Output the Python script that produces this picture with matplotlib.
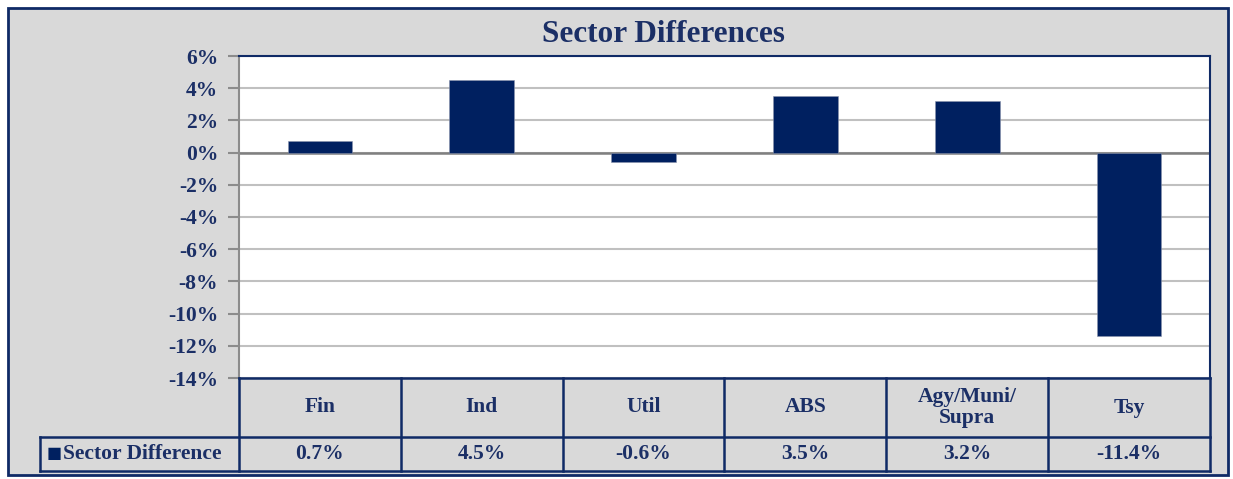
import matplotlib
matplotlib.use('Agg')
from matplotlib import pyplot as plt
from matplotlib.patches import Rectangle

categories = ['Fin', 'Ind', 'Util', 'ABS', 'Agy/Muni/\nSupra', 'Tsy']
values = [0.7, 4.5, -0.6, 3.5, 3.2, -11.4]
series_name = 'Sector Difference'
yticks = [6, 4, 2, 0, -2, -4, -6, -8, -10, -12, -14]

navy = '#002060'
text_col = '#1b2f66'
line_col = '#0f2a66'
bg = '#d9d9d9'

plt.rcParams['font.family'] = ['Liberation Serif', 'DejaVu Serif']
plt.rcParams['font.weight'] = 'bold'

W, H = 1233, 479
fig = plt.figure(figsize=(W / 100, H / 100), dpi=100)
fig.patch.set_facecolor('white')

# outer chart frame
fig.patches.append(Rectangle((8 / W, 1 - 475 / H), 1220 / W, 467 / H,
                             transform=fig.transFigure, facecolor=bg,
                             edgecolor=line_col, lw=2, zorder=-5))

left, right, top, bottom = 239, 1210, 56, 378
ax = fig.add_axes([left / W, 1 - bottom / H, (right - left) / W, (bottom - top) / H])
ax.set_zorder(2)
ax.set_facecolor('white')

x = list(range(len(categories)))
ax.bar(x, values, width=0.4, color=navy, zorder=3, edgecolor='#8a94ad', lw=0.4)
ax.set_xlim(-0.5, len(categories) - 0.5)
ax.set_ylim(min(yticks), max(yticks))
ax.set_yticks(yticks)
ax.set_yticklabels([f'{t}%' for t in yticks])
ax.set_xticks([])
ax.grid(axis='y', color='#c0c0c0', lw=1.5, zorder=1)
ax.axhline(0, color='#808080', lw=1.8, zorder=2)
ax.tick_params(axis='y', length=8, width=1.5, color='#8c8c8c', pad=7,
               labelsize=15.5, labelcolor=text_col)
for lab in ax.get_yticklabels():
    lab.set_fontweight('bold')
ax.spines['left'].set_color('#8c8c8c')
ax.spines['left'].set_linewidth(1.5)
for s in ('top', 'right'):
    ax.spines[s].set_color(line_col)
    ax.spines[s].set_linewidth(1.5)
ax.spines['bottom'].set_visible(False)

fig.text(663 / W, 1 - 35 / H, 'Sector Differences', ha='center', va='center',
         fontsize=22.5, fontweight='bold', color=text_col)

# data table below the axes
tr = ax.get_xaxis_transform()
ph = bottom - top
row1 = -(437 - bottom) / ph
row2 = -(471 - bottom) / ph
legend_left = -0.5 - (left - 40) / ((right - left) / len(categories))
kw = dict(transform=tr, clip_on=False, color=line_col, lw=1.8, zorder=5)
ax.plot([-0.5, len(categories) - 0.5], [0, 0], **kw)
ax.plot([legend_left, len(categories) - 0.5], [row1, row1], **kw)
ax.plot([legend_left, len(categories) - 0.5], [row2, row2], **kw)
ax.plot([legend_left, legend_left], [row1, row2], **kw)
for i in range(len(categories) + 1):
    ax.plot([i - 0.5, i - 0.5], [0, row2], **kw)

for i, (c, v) in enumerate(zip(categories, values)):
    ax.text(i, row1 / 2, c, transform=tr, ha='center', va='center', fontsize=15.5,
            fontweight='bold', color=text_col, linespacing=1.05)
    ax.text(i, (row1 + row2) / 2, f'{v:.1f}%', transform=tr, ha='center', va='center',
            fontsize=15.5, fontweight='bold', color=text_col)

ax.text(legend_left + 0.04, (row1 + row2) / 2, '\u25a0', transform=tr, ha='left', va='center',
        fontsize=11.5, color=navy, family=['DejaVu Sans'])
ax.text(legend_left + 0.14, (row1 + row2) / 2, series_name, transform=tr, ha='left', va='center',
        fontsize=15.5, fontweight='bold', color=text_col)

fig.savefig('out.png', dpi=100, facecolor=fig.get_facecolor())
